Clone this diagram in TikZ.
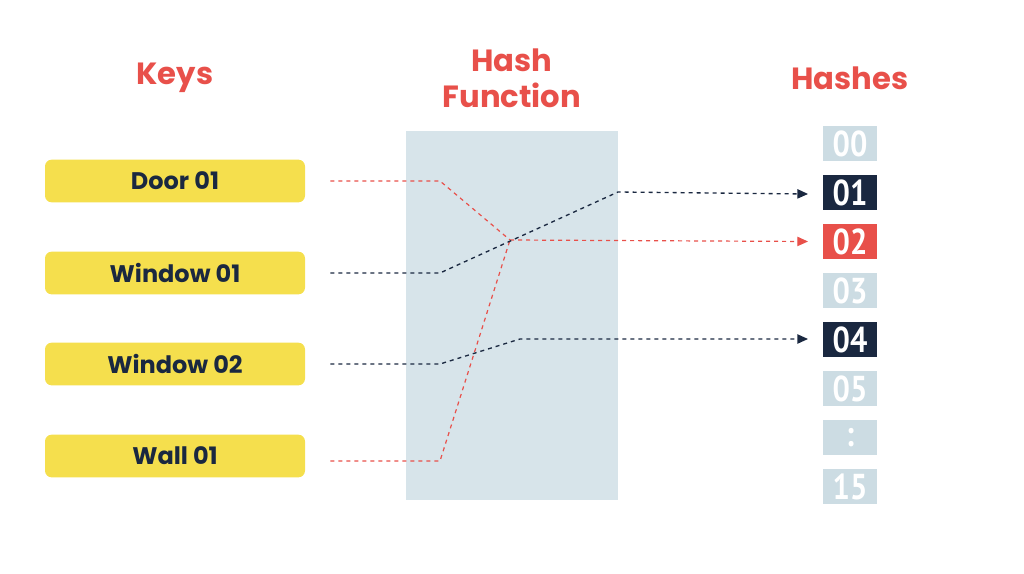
\documentclass[tikz,border=0pt]{standalone}
\usepackage{fontspec}
\setmainfont{Poppins}
\newfontfamily\numfont{PT Sans}
\usetikzlibrary{arrows.meta}
\definecolor{kred}{HTML}{E8504A}
\definecolor{kyel}{HTML}{F5DF4D}
\definecolor{knavy}{HTML}{1A2840}
\definecolor{kblue}{HTML}{D7E4EA}
\definecolor{kgrey}{HTML}{CCDCE3}
\begin{document}
\begin{tikzpicture}[x=0.75pt,y=-0.75pt,
  title/.style={text=kred,font=\fontsize{23}{27}\selectfont\bfseries,align=center},
  keybox/.style={fill=kyel,rounded corners=5pt,minimum width=195pt,minimum height=32pt,font=\fontsize{18}{20}\selectfont\bfseries,text=knavy},
  hbox/.style={minimum width=40.5pt,minimum height=26pt,inner sep=0pt,font=\numfont\fontsize{27}{28}\selectfont\bfseries,text=white},
  rl/.style={draw=kred,dashed,dash pattern=on 3pt off 3pt,line width=0.9pt},
  nl/.style={draw=knavy,dashed,dash pattern=on 3pt off 3pt,line width=1pt},
  tip/.style={-{Triangle[length=8pt,width=7pt]}}]
\useasboundingbox (0,0) rectangle (1024,574);
\node[title] (tk) at (175,78) {Keys};
\node[title] (th) at (512,78) {Hash\\Function};
\node[title] (ts) at (850,78) {Hashes};
\node[fill=kblue,minimum width=159pt,minimum height=277pt,inner sep=0pt] (hf) at (512,315.5) {};
\node[keybox] (k1) at (175,181) {Door 01};
\node[keybox] (k2) at (175,273) {Window 01};
\node[keybox] (k3) at (175,364) {Window 02};
\node[keybox] (k4) at (175,456) {Wall 01};
\foreach \t/\c [count=\i from 0] in {00/kgrey,01/knavy,02/kred,03/kgrey,04/knavy,05/kgrey,:/kgrey,15/kgrey}
  \node[hbox,fill=\c] (h\i) at (850,{143.5+49*\i}) {\scalebox{0.85}[1]{\t}};
\coordinate (m) at (510,240);
\draw[rl] (k1.east)++(25,0) -- (440,181) -- (m);
\draw[rl] (k4.east)++(25,5) -- (440,461) -- (m);
\draw[rl,tip] (m) -- (h2.west -| 808,0) ;
\draw[nl,tip] (k2.east)++(25,0) -- (440,273) -- (618,192) -- (808,194);
\draw[nl,tip] (k3.east)++(25,0) -- (440,364) -- (520,339) -- (808,339);
\end{tikzpicture}
\end{document}
